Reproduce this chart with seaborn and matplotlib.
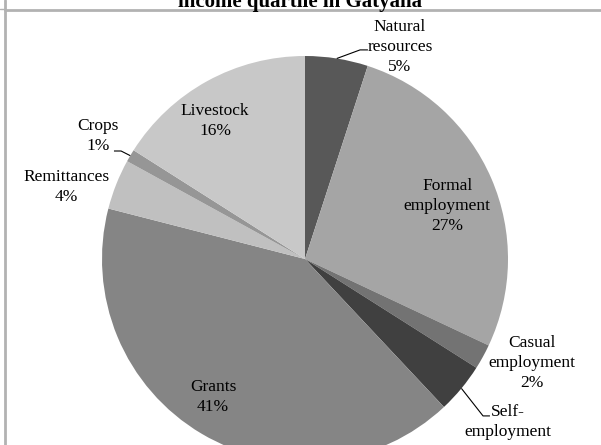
import matplotlib
matplotlib.use("Agg")
import numpy as np
import matplotlib.pyplot as plt
from matplotlib.lines import Line2D
import seaborn as sns

# Income sources, clockwise from 12 o'clock
categories = ["Natural\nresources", "Formal\nemployment", "Casual\nemployment",
              "Self-\nemployment", "Grants", "Remittances", "Crops", "Livestock"]
shares = [5, 27, 2, 4, 41, 4, 1, 16]
slice_colors = ["#585858", "#a5a5a5", "#737373", "#404040",
                "#858585", "#c0c0c0", "#969696", "#c8c8c8"]
title_text = "income quartile in Gatyana"

sns.set_theme(style="white")
plt.rcParams["font.family"] = ["Liberation Serif", "DejaVu Serif"]

W, H = 601, 445
fig = plt.figure(figsize=(W / 100, H / 100), dpi=100)
fig.patch.set_facecolor("white")
ax = fig.add_axes([0, 0, 1, 1])

# pie centre and radius in pixels
cx, cy, R = 305, 259, 203
palette = sns.color_palette(slice_colors)
wedges, _ = ax.pie(shares, colors=palette, startangle=90, counterclock=False,
                   radius=1, wedgeprops=dict(linewidth=0))
ax.set_xlim(-cx / R, (W - cx) / R)
ax.set_ylim(-(H - cy) / R, cy / R)
ax.set_aspect("auto")
ax.axis("off")

# label centres (in pie-radius units)
label_pos = [(0.468, 1.044), (0.70, 0.261), (1.118, -0.512), (1.0, -0.852),
             (-0.453, -0.68), (-1.177, 0.355), (-1.02, 0.606), (-0.443, 0.680)]
# leader lines: elbow start and end points (pie-radius units), None = no leader
leaders = [((0.271, 1.030), (0.310, 1.030)), None, None,
           ((0.877, -0.773), (0.911, -0.773)), None, None,
           ((-0.906, 0.532), (-0.941, 0.532)), None]

for w, name, v, pos, ld in zip(wedges, categories, shares, label_pos, leaders):
    ax.text(pos[0], pos[1], f"{name}\n{v}%", ha="center", va="center",
            multialignment="center", fontsize=12.5, color="black",
            linespacing=1.32)
    if ld is not None:
        mid = np.deg2rad((w.theta1 + w.theta2) / 2)
        ex, ey = np.cos(mid), np.sin(mid)
        ax.plot([ex, ld[0][0], ld[1][0]], [ey, ld[0][1], ld[1][1]],
                color="black", lw=0.8, solid_capstyle="butt")

fig.text(0.5, 1 - 7 / H, title_text, ha="center", va="baseline",
         fontsize=15, fontweight="bold", color="black")

# surrounding frame lines
def px_line(x0, y0, x1, y1, lw, color):
    fig.add_artist(Line2D([x0 / W, x1 / W], [1 - y0 / H, 1 - y1 / H],
                          transform=fig.transFigure, lw=lw, color=color))

px_line(4.5, 0, 4.5, H, 2.0, "#b2b2b2")
px_line(5, 10, W, 10, 2.0, "#b2b2b2")
px_line(0, 9, 4, 9, 1.0, "#b2b2b2")

fig.savefig("out.png", dpi=100, facecolor="white")
